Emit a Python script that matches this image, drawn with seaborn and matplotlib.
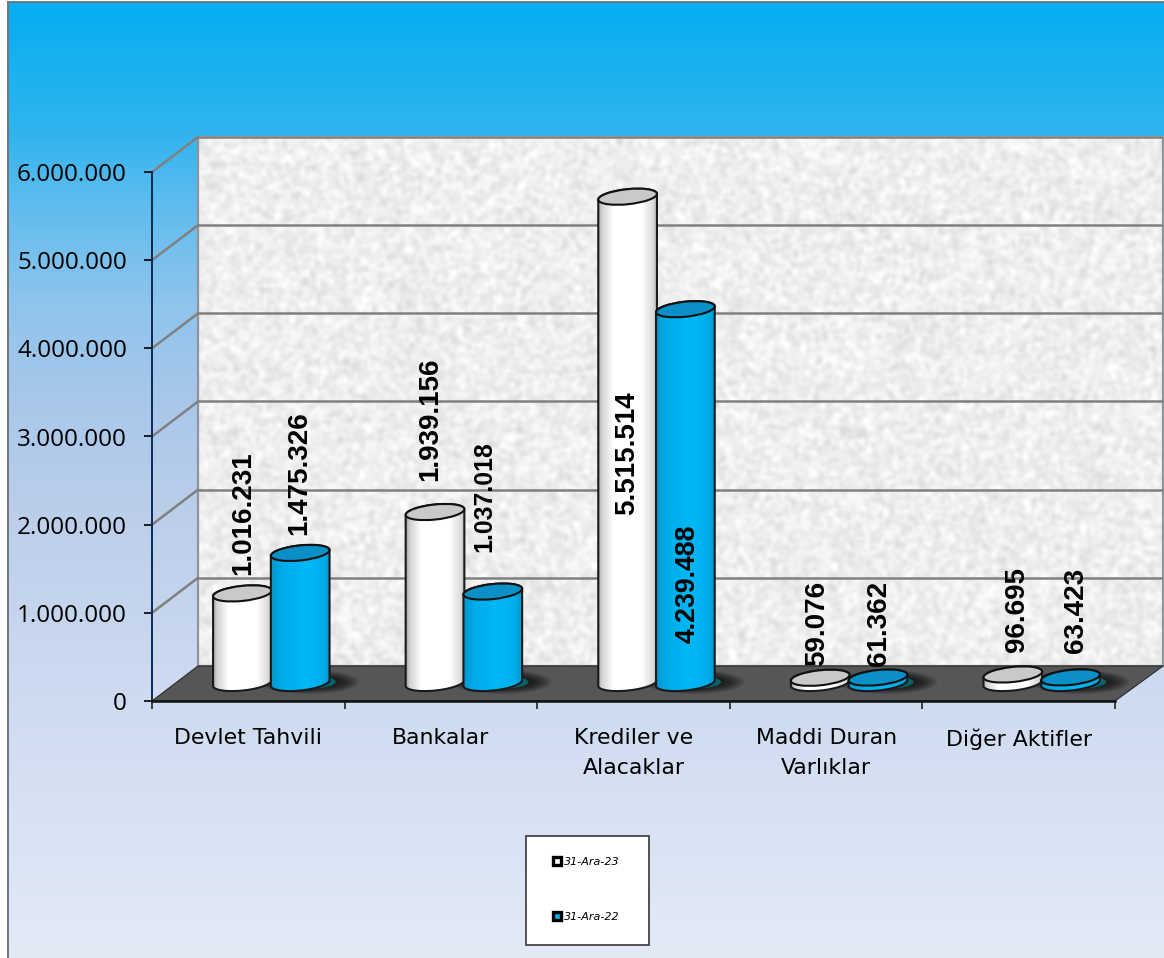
import numpy as np
import pandas as pd
import matplotlib
matplotlib.use("Agg")
import matplotlib.pyplot as plt
from matplotlib.colors import LinearSegmentedColormap
from matplotlib.patches import Ellipse, Polygon, Rectangle
from matplotlib.ticker import FuncFormatter, FixedLocator
import seaborn as sns

# ---------- data ----------
categories = ["Devlet Tahvili", "Bankalar", "Krediler ve\nAlacaklar", "Maddi Duran\nVarlıklar", "Diğer Aktifler"]
series_names = ["31-Ara-23", "31-Ara-22"]
values_2023 = [1016231, 1939156, 5515514, 59076, 96695]
values_2022 = [1475326, 1037018, 4239488, 61362, 63423]
y_ticks = [0, 1000000, 2000000, 3000000, 4000000, 5000000, 6000000]

# ---------- layout (pixels) ----------
W, H = 1164, 958
AX = (152, 172, 1115, 701)      # front plane x0, ytop, x1, ybottom
DEPTH = (46, -35)               # back wall offset
MID = (23, -18)                 # bars stand mid-depth
ELL_W, ELL_H, TILT = 59, 15, -6
# label offset from bar top (dx, dy px; dy>0 = above), per series
label_nudge_23 = [(1, 18), (-5, 31), (0, -318), (-3, 12), (4, 22)]
label_nudge_22 = [(-1, 18), (-8, 40), (2, -334), (1, 12), (5, 24)]
label_size_23 = [20, 20, 20, 20, 20]
label_size_22 = [20, 17.9, 19.2, 20, 20]

sns.set_style("white")
plt.rcParams["font.family"] = ["DejaVu Sans"]
plt.rcParams["text.color"] = "black"
plt.rcParams["xtick.color"] = "black"
plt.rcParams["ytick.color"] = "black"

def rect(x0, y0, x1, y1):
    return [x0 / W, 1 - y1 / H, (x1 - x0) / W, (y1 - y0) / H]

fig = plt.figure(figsize=(W / 100, H / 100), dpi=100, facecolor="white")

# ---------- background ----------
ax_bg = fig.add_axes([0, 0, 1, 1], zorder=0)
ax_bg.axis("off")
stops = [(0.0, "#05AEF1"), (130/953, "#30B4EF"), (200/953, "#5EBCEE"), (300/953, "#8FC4EC"),
         (400/953, "#A9C7EA"), (520/953, "#BDCFEB"), (700/953, "#CFDBF1"), (1.0, "#E3EAF6")]
bg_cmap = LinearSegmentedColormap.from_list("bg", stops, N=2048)
ax_bg.imshow(np.linspace(0, 1, 958)[:, None], cmap=bg_cmap, aspect="auto", extent=(8, W, H, 2),
             vmin=0, vmax=1, interpolation="bilinear")
ax_bg.set_xlim(0, W); ax_bg.set_ylim(H, 0)
ax_bg.plot([8, 8, W], [H, 2, 2], color="#6F7780", lw=1.4, solid_joinstyle="miter")

# ---------- back wall with stone texture ----------
ax_wall = fig.add_axes(rect(AX[0] + DEPTH[0], AX[1] + DEPTH[1], W - 1, AX[3] + DEPTH[1]), zorder=1)
yy, xx = np.mgrid[0:265, 0:483]
n = np.sin(xx * 12.9898 + yy * 78.233) * 43758.5453
n = n - np.floor(n)
for _ in range(2):
    n = (n + np.roll(n, 1, 0) + np.roll(n, -1, 0) + np.roll(n, 1, 1) + np.roll(n, -1, 1)) / 5
n = (n - n.mean()) / n.std()
tex = np.clip(0.935 + 0.026 * n, 0.78, 1.0)
ax_wall.imshow(tex, cmap="gray", vmin=0, vmax=1, aspect="auto", extent=(0, 1, 0, 6000000), zorder=0,
               interpolation="bicubic")
ax_wall.set_ylim(0, 6000000)
ax_wall.set_xlim(0, 1)
ax_wall.set_yticks(y_ticks); ax_wall.set_xticks([])
ax_wall.tick_params(left=False, labelleft=False)
ax_wall.grid(True, axis="y", color="#808080", lw=1.8, zorder=1)
ax_wall.set_axisbelow(False)
for s in ax_wall.spines.values():
    s.set_color("#8C959E"); s.set_linewidth(1.6)

# ---------- front plane axes: ticks and labels ----------
ax_main = fig.add_axes(rect(*AX), zorder=3)
ax_main.patch.set_alpha(0)
ax_main.set_xlim(-0.5, 4.5)
ax_main.set_ylim(0, 6000000)
ax_main.set_yticks(y_ticks)
ax_main.yaxis.set_major_formatter(FuncFormatter(lambda v, _: f"{int(v):,}".replace(",", ".")))
ax_main.xaxis.set_major_locator(FixedLocator(np.arange(-0.5, 5, 1)))
ax_main.set_xticklabels([])
ax_main.set_xticks(np.arange(5), labels=categories, minor=True)
ax_main.tick_params(axis="y", length=6, width=1.2, color="black", pad=12, labelsize=17.5, left=True, labelcolor="black")
ax_main.tick_params(axis="x", which="major", length=6, width=1.2, color="#222222", bottom=True)
ax_main.tick_params(axis="x", which="minor", length=0, pad=19.5, labelsize=15.8, labelcolor="black")
for t in ax_main.get_yticklabels():
    t.set_family("Open Sans")
for t in ax_main.get_xticklabels(minor=True):
    t.set_linespacing(1.62)
for side in ("top", "right"):
    ax_main.spines[side].set_visible(False)
ax_main.spines["left"].set_color("#0B2A55"); ax_main.spines["left"].set_linewidth(1.4)
ax_main.spines["bottom"].set_color("#111111"); ax_main.spines["bottom"].set_linewidth(1.8)

# ---------- floor, side-wall lines, legend box ----------
ax_px = fig.add_axes([0, 0, 1, 1], zorder=2)
ax_px.set_xlim(0, W); ax_px.set_ylim(H, 0); ax_px.axis("off")
floor = Polygon([(AX[0], AX[3]), (AX[0] + DEPTH[0], AX[3] + DEPTH[1]), (W - 1, AX[3] + DEPTH[1]),
                 (AX[2], AX[3])], closed=True, fc="#565656", ec="#2A2A2A", lw=0.8)
ax_px.add_patch(floor)
for v in y_ticks[1:]:
    _, py = ax_main.transData.transform((-0.5, v))
    py = H - py
    ax_px.plot([AX[0], AX[0] + DEPTH[0]], [py, py + DEPTH[1]], color="#808080", lw=1.8)
ax_px.add_patch(Rectangle((526, 836), 123, 109, fc="white", ec="#444444", lw=1.3))

# ---------- bars ----------
ax_bars = fig.add_axes(rect(AX[0] + MID[0], AX[1] + MID[1], AX[2] + MID[0], AX[3] + MID[1]), zorder=4)
ax_bars.patch.set_alpha(0)
df = pd.DataFrame({
    "kategori": categories * 2,
    "deger": values_2023 + values_2022,
    "donem": [series_names[0]] * 5 + [series_names[1]] * 5,
})
sns.barplot(data=df, x="kategori", y="deger", hue="donem", order=categories, hue_order=series_names,
            palette=["#FFFFFF", "#00B0F0"], width=0.6, gap=0, dodge=True, saturation=1,
            edgecolor="black", linewidth=1.0, ax=ax_bars)
ax_bars.set_xlim(-0.5, 4.5)
ax_bars.set_ylim(0, 6000000)
ax_bars.set_axis_off()
sns.move_legend(ax_bars, loc="center", bbox_to_anchor=(586.5 / W, 1 - 889.5 / H),
                bbox_transform=fig.transFigure, title=None, frameon=False,
                prop={"family": "DejaVu Sans", "style": "italic", "size": 8},
                labelspacing=4.05, borderpad=0, handlelength=0.72, handleheight=0.72, handletextpad=0.3,
                borderaxespad=0)
for handle in ax_bars.get_legend().legend_handles:
    handle.set_linewidth(2.4)
    handle.set_edgecolor("black")

# ---------- cylinder rendering derived from the seaborn bars ----------
ax_top = fig.add_axes([0, 0, 1, 1], zorder=5)
ax_top.set_xlim(0, W); ax_top.set_ylim(H, 0); ax_top.axis("off")

white_body = LinearSegmentedColormap.from_list("w", [(0, "#9A9A9A"), (0.07, "#D0D0D0"), (0.26, "#FFFFFF"),
                                                     (0.74, "#FFFFFF"), (0.93, "#DADADA"), (1, "#ACACAC")])
blue_body = LinearSegmentedColormap.from_list("b", [(0, "#0096CC"), (0.2, "#00ACEA"), (0.6, "#00B8F6"),
                                                    (0.88, "#00ACEA"), (1, "#0096CC")])
styles = [(white_body, "#C9C9C9"), (blue_body, "#0A8FC6")]
nudges = [label_nudge_23, label_nudge_22]
sizes = [label_size_23, label_size_22]
th = np.deg2rad(TILT)

def ell_pts(cx, cy, t):
    a, b = ELL_W / 2, ELL_H / 2
    return np.c_[cx + a * np.cos(t) * np.cos(th) - b * np.sin(t) * np.sin(th),
                 cy + a * np.cos(t) * np.sin(th) + b * np.sin(t) * np.cos(th)]

bars_px = []
for s, cont in enumerate(ax_bars.containers):
    for c, bar in enumerate(cont):
        x = bar.get_x() + bar.get_width() / 2
        v = bar.get_height()
        px, ptop = ax_bars.transData.transform((x, v))
        _, pbase = ax_bars.transData.transform((x, 0))
        bars_px.append((c, s, px, H - ptop, H - pbase, v, bar))

# floor shadows first (soft, built from stacked translucent ellipses)
for c, s, px, ptop, pbase, v, bar in bars_px:
    if s == 1:
        for w_, h_ in zip(np.linspace(100, 62, 9), np.linspace(24, 12, 9)):
            ax_top.add_patch(Ellipse((px + 9, pbase - 1), w_, h_, fc="black", ec="none", alpha=0.10, zorder=1))
        ax_top.add_patch(Ellipse((px + 4, pbase - 1), 63, 14, fc="#00808C", ec="none", alpha=0.7, zorder=1.5))

for c, s, px, ptop, pbase, v, bar in sorted(bars_px, key=lambda r: (r[0], r[1])):
    cmap, cap = styles[s]
    poly = np.vstack([ell_pts(px, pbase, np.linspace(0, np.pi, 40)),
                      ell_pts(px, ptop, np.linspace(np.pi, 2 * np.pi, 40))])
    clip = Polygon(poly, closed=True, fc="none", ec="none")
    ax_top.add_patch(clip)
    bar.set_clip_path(clip)
    z = 2 + c + s * 0.1
    im = ax_top.imshow(np.linspace(0, 1, 64)[None, :], cmap=cmap, aspect="auto", interpolation="bilinear",
                       extent=(px - ELL_W / 2 - 1, px + ELL_W / 2 + 1, pbase + 12, ptop - 12), zorder=z)
    im.set_clip_path(clip)
    ax_top.add_patch(Polygon(poly, closed=True, fc="none", ec="#1A1A1A", lw=1.5, zorder=z + 0.01))
    ax_top.add_patch(Ellipse((px, ptop), ELL_W, ELL_H, angle=TILT, fc=cap, ec="#111111", lw=1.5, zorder=z + 0.02))
    dx, dy = nudges[s][c]
    label = f"{int(v):,}".replace(",", ".")
    ax_top.text(px + dx, ptop - dy, label, rotation=90, ha="center", va="bottom",
                family="Liberation Sans", weight="bold", fontsize=sizes[s][c], color="black", zorder=20)
ax_top.set_xlim(0, W); ax_top.set_ylim(H, 0)

fig.savefig("out.png", dpi=100)
